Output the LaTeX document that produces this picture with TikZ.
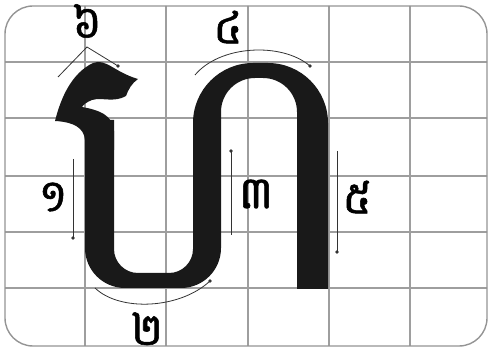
\documentclass[tikz,border=0pt]{standalone}
\usepackage{fontspec}
\newfontfamily\khmer[Script=Khmer,FakeBold=1.2]{Battambang}
\begin{document}
\begin{tikzpicture}[x=1pt,y=-1pt,
  gridline/.style={draw=black!38,line width=1.3pt},
  frame/.style={draw=black!42,line width=1.4pt,rounded corners=28pt},
  glyph/.style={fill=black!90},
  guide/.style={draw=black!80,line width=0.8pt},
  enddot/.style={fill=black!80},
  num/.style={font=\khmer\fontsize{45}{45}\selectfont,inner sep=0pt}]
\useasboundingbox (0,0) rectangle (488,358);
% grid
\begin{scope}
  \clip[rounded corners=28pt] (5,6) rectangle (487,346);
  \foreach \x in {85,166,248,329,410} \draw[gridline] (\x,0) -- (\x,358);
  \foreach \y in {62,118,176,232,288} \draw[gridline] (0,\y) -- (488,\y);
\end{scope}
\draw[frame] (5,6) rectangle (487,346);
% main body of the letter
\fill[glyph] (85,120) -- (85,248) .. controls (85,270.1) and (102.9,288) .. (125,288)
  -- (181,288) .. controls (203.1,288) and (221,270.1) .. (221,248)
  -- (221,112) .. controls (221,93.2) and (236.2,78) .. (255,78)
  -- (263,78) .. controls (281.8,78) and (297,93.2) .. (297,112)
  -- (297,289) -- (328,289)
  -- (328,123) .. controls (328,89.9) and (301.1,63) .. (268,63)
  -- (253,63) .. controls (219.9,63) and (193,89.9) .. (193,123)
  -- (193,249) .. controls (193,262.2) and (182.2,273) .. (169,273)
  -- (138,273) .. controls (124.8,273) and (114,262.2) .. (114,249)
  -- (114,120) -- cycle;
% head of the letter
\fill[glyph] (55,121) .. controls (61,97) and (72,73) .. (93,63)
  .. controls (106,58) and (114,72) .. (138,79)
  .. controls (132,83) and (128,90) .. (126,96)
  .. controls (114,103) and (102,97) .. (92,100)
  .. controls (87,102) and (84,104) .. (82,107)
  .. controls (99,110) and (113,115) .. (114,131)
  -- (114,150) -- (85,150) -- (85,140)
  .. controls (84,128) and (74,122) .. (55,121) -- cycle;
% stroke guides
\coordinate (g1a) at (73,159); \coordinate (g1b) at (73,238);
\draw[guide] (g1a) -- (g1b); \fill[enddot] (g1b) circle (1.8);
\coordinate (g2a) at (95,288); \coordinate (g2b) at (210,281);
\draw[guide] (g2a) .. controls (120,312) and (180,309) .. (g2b); \fill[enddot] (g2b) circle (1.8);
\coordinate (g3a) at (231,235); \coordinate (g3b) at (231,151);
\draw[guide] (g3a) -- (g3b); \fill[enddot] (g3b) circle (1.8);
\coordinate (g4a) at (195,75); \coordinate (g4b) at (310,66);
\draw[guide] (g4a) .. controls (220,45) and (282,42) .. (g4b); \fill[enddot] (g4b) circle (1.8);
\coordinate (g5a) at (337,151); \coordinate (g5b) at (337,252);
\draw[guide] (g5a) -- (g5b); \fill[enddot] (g5b) circle (1.8);
\coordinate (g6a) at (58,77); \coordinate (g6m) at (87,47); \coordinate (g6b) at (118,66);
\draw[guide] (g6a) -- (g6m) -- (g6b); \fill[enddot] (g6b) circle (1.8);
% numbers
\node[num] (n1) at (53,197) {១};
\node[num,anchor=base,text depth=0pt] (n2) at (147,345) {២};
\node[num] (n3) at (256,194) {៣};
\node[num] (n4) at (228,27) {៤};
\node[num] (n5) at (357,197) {៥};
\node[num] (n6) at (87,21) {៦};
\end{tikzpicture}
\end{document}
